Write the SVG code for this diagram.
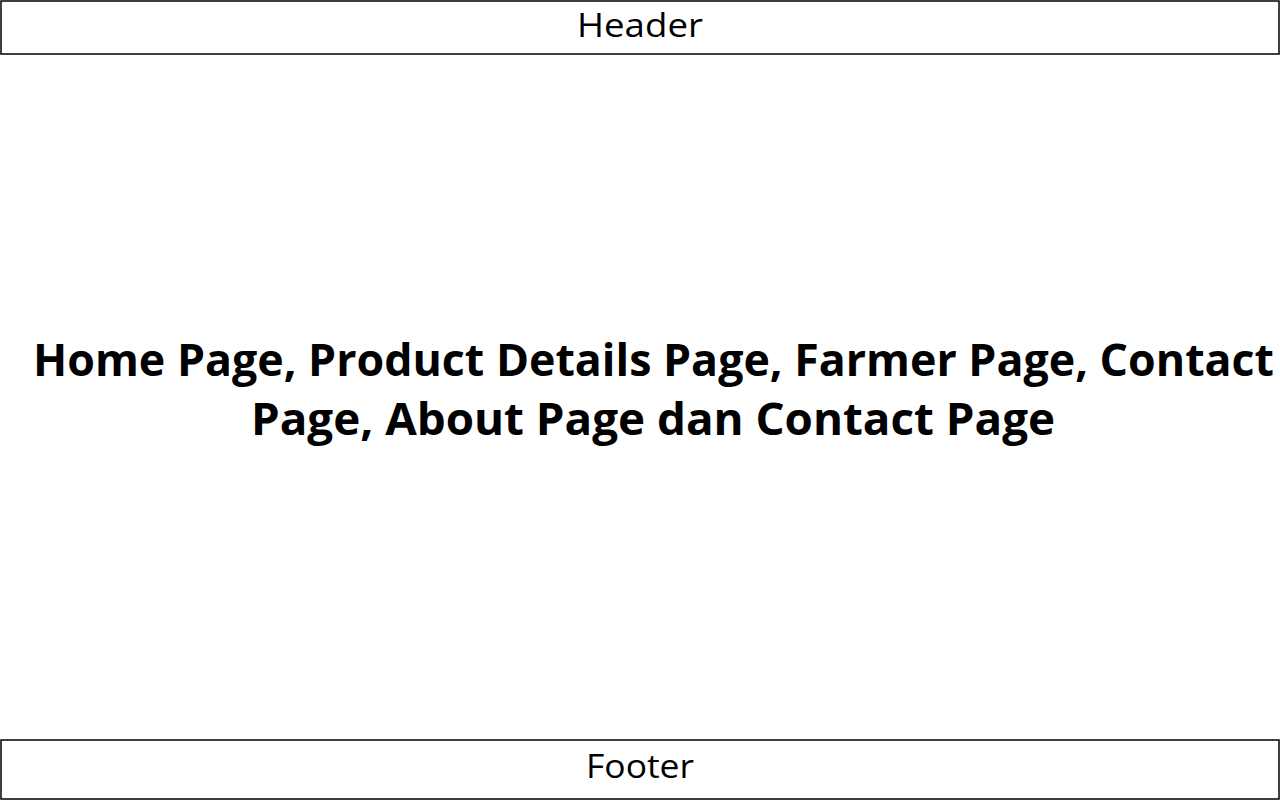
<svg xmlns="http://www.w3.org/2000/svg" width="1280" height="800" viewBox="0 0 1280 800">
  <style>
    .box { fill: #ffffff; stroke: #000000; stroke-width: 1.5; }
    .label { font-family: "Open Sans", "Liberation Sans", sans-serif; font-size: 32px; fill: #000000; text-anchor: middle; }
    .body { font-family: "Open Sans", "Liberation Sans", sans-serif; font-weight: bold; font-size: 44px; fill: #000000; text-anchor: middle; }
  </style>
  <rect width="1280" height="800" fill="#ffffff"/>
  <g id="header">
    <rect class="box" x="1" y="1" width="1278" height="53"/>
    <text class="label" x="640" y="37" textLength="126" lengthAdjust="spacingAndGlyphs">Header</text>
  </g>
  <g id="content">
    <text class="body" x="653.5" y="376" textLength="1241" lengthAdjust="spacingAndGlyphs">Home Page, Product Details Page, Farmer Page, Contact</text>
    <text class="body" x="653" y="435" textLength="804" lengthAdjust="spacingAndGlyphs">Page, About Page dan Contact Page</text>
  </g>
  <g id="footer">
    <rect class="box" x="1" y="740" width="1278" height="59"/>
    <text class="label" x="640" y="778" textLength="108" lengthAdjust="spacingAndGlyphs">Footer</text>
  </g>
</svg>
